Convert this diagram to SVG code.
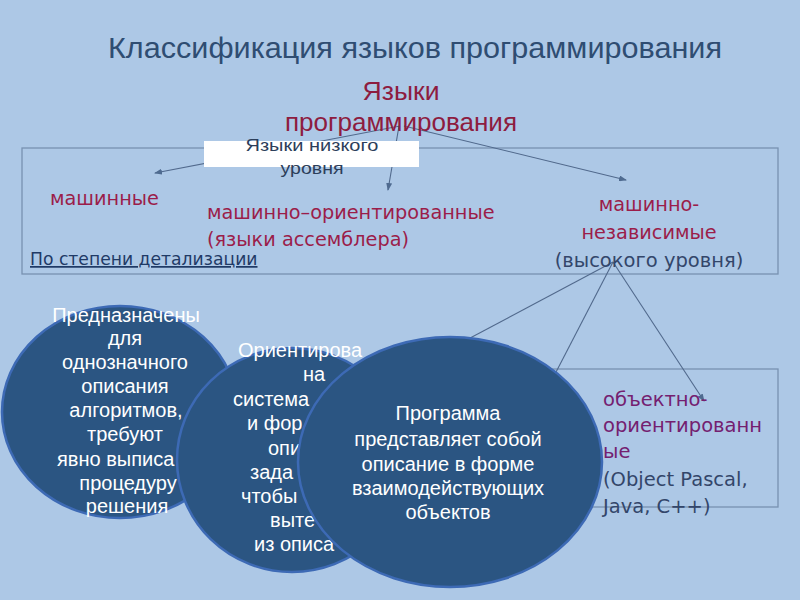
<svg xmlns="http://www.w3.org/2000/svg" width="800" height="600" viewBox="0 0 800 600">
<defs>
<marker id="arr" markerWidth="8" markerHeight="6" refX="7" refY="3" orient="auto" markerUnits="userSpaceOnUse">
<path d="M0,0 L8,3 L0,6 z" fill="#4f6b90"/>
</marker>
<style>
.frame{fill:none;stroke:#7891b1;stroke-width:1.3}
.conn{stroke:#51698c;stroke-width:1.1;fill:none}
.title{font-family:"Liberation Sans Narrow","Liberation Sans",sans-serif;font-size:29px;fill:#2f4d72}
.root{font-family:"Liberation Sans Narrow","Liberation Sans",sans-serif;font-size:25px;fill:#8d1c40;text-anchor:middle}
.low{font-family:"Liberation Sans Narrow","Liberation Sans",sans-serif;font-size:17px;fill:#2c3e5a;text-anchor:middle}
.red{font-family:"DejaVu Sans",Verdana,sans-serif;font-size:19.3px;fill:#9b1d4a}
.purple{font-family:"DejaVu Sans",Verdana,sans-serif;font-size:19.5px;fill:#742070}
.navy{font-family:"DejaVu Sans",Verdana,sans-serif;font-size:19.5px;fill:#33466a}
.link{font-family:"DejaVu Sans",Verdana,sans-serif;font-size:17.2px;fill:#1f3a66;text-decoration:underline}
.ell{fill:#2b5582;stroke:#3d6ab5;stroke-width:2.5}
.wt{font-family:"Liberation Sans",Arial,sans-serif;font-size:20px;fill:#ffffff}
.mid{text-anchor:middle}
</style>
</defs>
<rect x="0" y="0" width="800" height="600" fill="#adc8e6"/>

<g id="title">
<text class="title" x="108" y="58" textLength="614" lengthAdjust="spacingAndGlyphs">Классификация языков программирования</text>
</g>

<g id="frame-top"><rect class="frame" x="22" y="148" width="756" height="126"/></g>
<g id="frame-bottom"><rect class="frame" x="340" y="369" width="438" height="138"/></g>

<g id="connectors">
<line class="conn" x1="400" y1="126" x2="155" y2="173" marker-end="url(#arr)"/>
<line class="conn" x1="399" y1="126" x2="388" y2="190" marker-end="url(#arr)"/>
<line class="conn" x1="404" y1="126" x2="626" y2="180" marker-end="url(#arr)"/>
<line class="conn" x1="613" y1="262" x2="455" y2="346"/>
<line class="conn" x1="613" y1="262" x2="540" y2="403"/>
<line class="conn" x1="613" y1="262" x2="704" y2="401" marker-end="url(#arr)"/>
</g>

<g id="root">
<text class="root" x="401" y="100" textLength="77" lengthAdjust="spacingAndGlyphs">Языки</text>
<text class="root" x="401" y="131" textLength="232" lengthAdjust="spacingAndGlyphs">программирования</text>
</g>

<g id="low-level">
<rect x="204" y="141" width="215" height="26" fill="#ffffff"/>
<text class="low" x="312" y="151" textLength="133" lengthAdjust="spacingAndGlyphs">Языки низкого</text>
<text class="low" x="312" y="174" textLength="63" lengthAdjust="spacingAndGlyphs">уровня</text>
</g>

<g id="machine">
<text class="red" x="50" y="205">машинные</text>
</g>
<g id="machine-oriented">
<text class="red" x="207" y="219">машинно–ориентированные</text>
<text class="red" x="207" y="246">(языки ассемблера)</text>
</g>
<g id="machine-independent">
<text class="red mid" x="649" y="211">машинно-</text>
<text class="red mid" x="649" y="239">независимые</text>
<text class="navy mid" x="649" y="267">(высокого уровня)</text>
</g>
<g id="detail">
<text class="link" x="30" y="265">По степени детализации</text>
</g>

<g id="oop">
<text class="purple" x="603" y="406">объектно-</text>
<text class="purple" x="603" y="432">ориентированн</text>
<text class="purple" x="603" y="458">ые</text>
<text class="navy" x="603" y="486">(Object Pascal,</text>
<text class="navy" x="603" y="513">Java, C++)</text>
</g>

<g id="procedural">
<ellipse class="ell" cx="120" cy="412" rx="118" ry="106"/>
<text class="wt mid" x="126" y="322">Предназначены</text>
<text class="wt mid" x="125" y="345">для</text>
<text class="wt mid" x="125" y="369">однозначного</text>
<text class="wt mid" x="125" y="393">описания</text>
<text class="wt mid" x="126" y="417">алгоритмов,</text>
<text class="wt mid" x="125" y="441">требуют</text>
<text class="wt" x="57" y="466">явно выписа</text>
<text class="wt mid" x="128" y="490">процедуру</text>
<text class="wt mid" x="127" y="513">решения</text>
</g>

<g id="declarative">
<ellipse class="ell" cx="292" cy="460" rx="115" ry="112"/>
<text class="wt" x="238" y="357">Ориентирова</text>
<text class="wt" x="303" y="381">на</text>
<text class="wt" x="233" y="406">система</text>
<text class="wt" x="247" y="430">и фор</text>
<text class="wt" x="268" y="455">опи</text>
<text class="wt" x="250" y="479">зада</text>
<text class="wt" x="241" y="503">чтобы</text>
<text class="wt" x="270" y="527">выте</text>
<text class="wt" x="254" y="551">из описа</text>
</g>

<g id="object">
<ellipse class="ell" cx="450" cy="462" rx="152" ry="125"/>
<text class="wt mid" x="448" y="420">Программа</text>
<text class="wt mid" x="448" y="446">представляет собой</text>
<text class="wt mid" x="448" y="471">описание в форме</text>
<text class="wt mid" x="448" y="495">взаимодействующих</text>
<text class="wt mid" x="448" y="519">объектов</text>
</g>
</svg>
